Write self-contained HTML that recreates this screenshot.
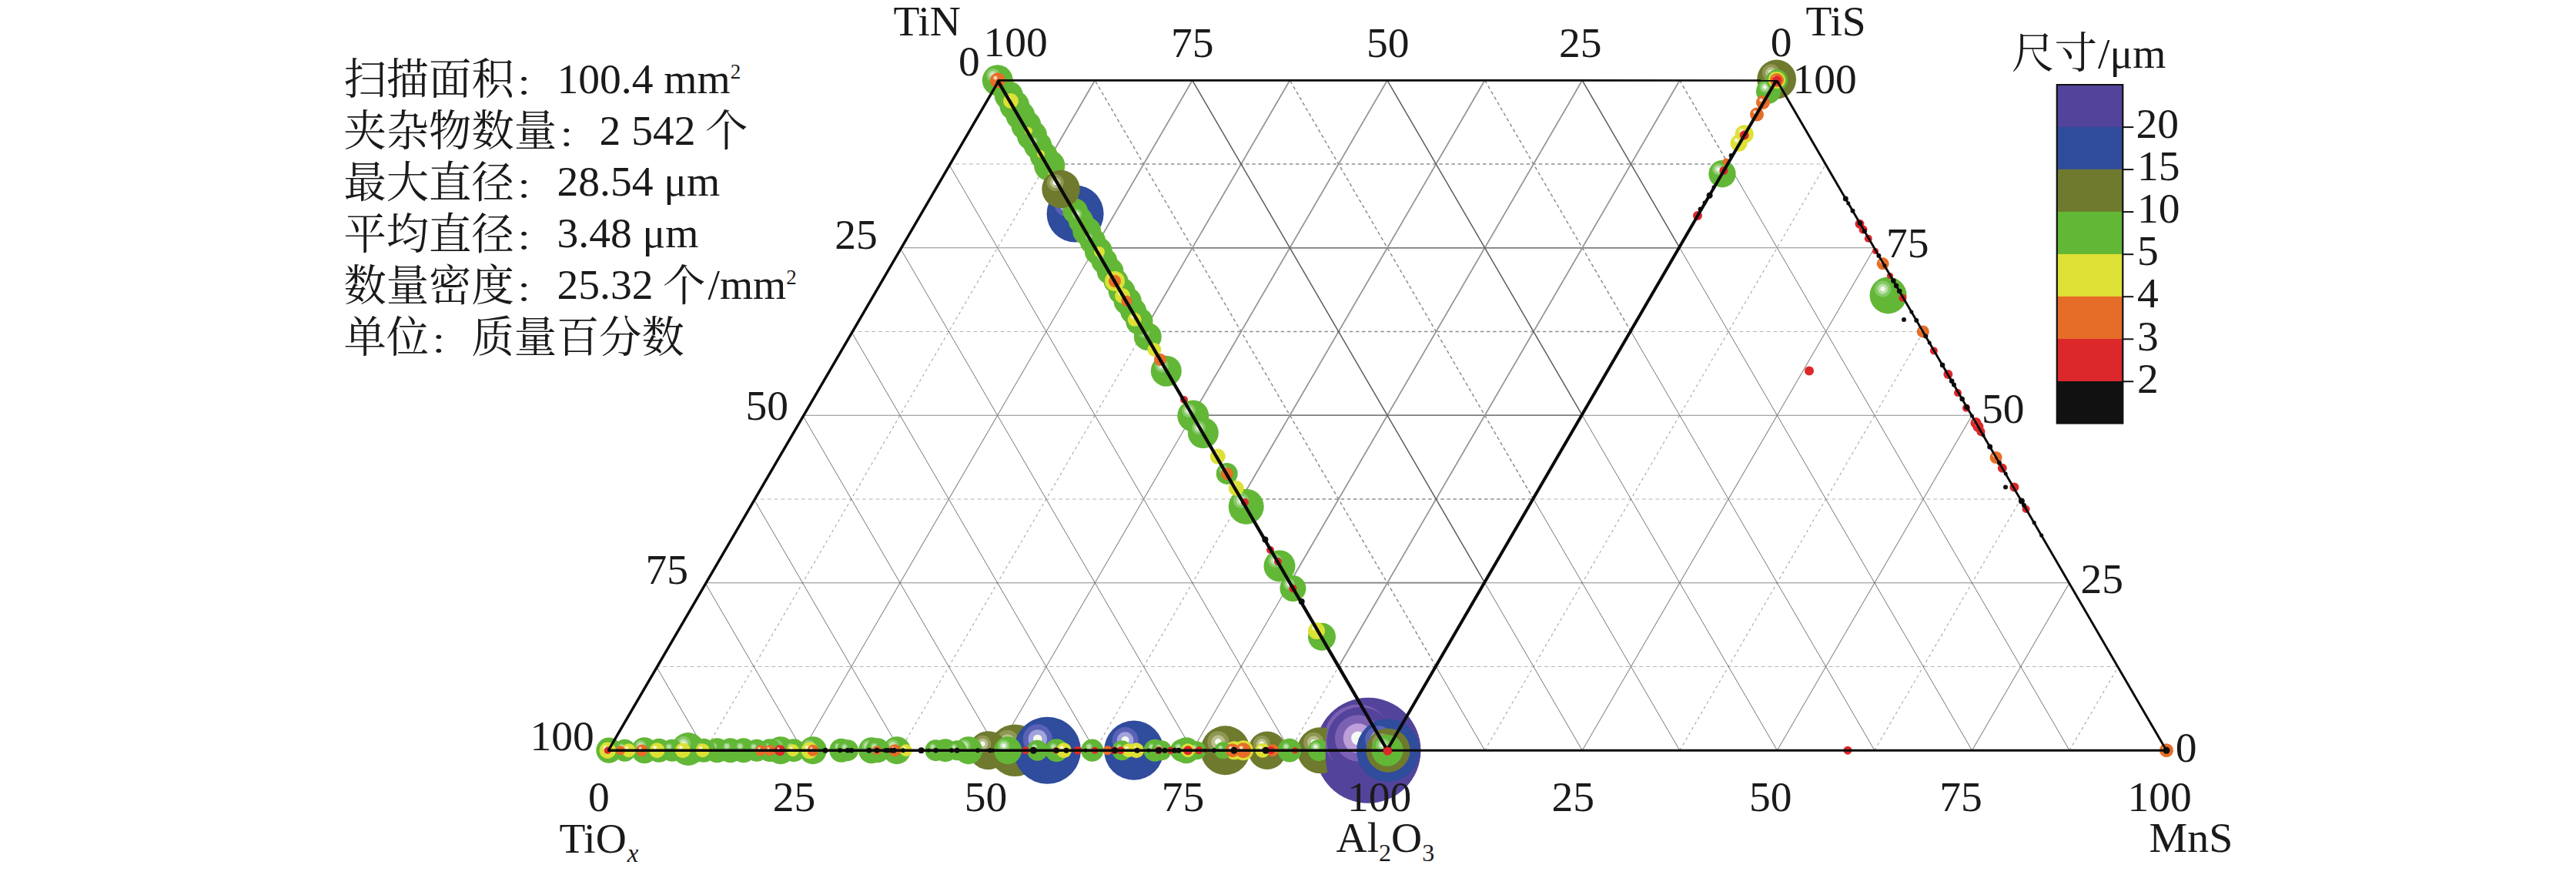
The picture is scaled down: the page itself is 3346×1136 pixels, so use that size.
<!DOCTYPE html>
<html lang="zh-CN">
<head>
<meta charset="utf-8">
<title>夹杂物成分分布</title>
<style>
html,body{margin:0;padding:0;background:#fff;}
body{width:3346px;height:1136px;overflow:hidden;}
svg{display:block;}
text{font-family:"Liberation Serif","Noto Serif CJK SC",serif;fill:#1a1a1a;}
text.cj{font-family:"Liberation Serif","Noto Serif CJK SC",serif;font-weight:400;}
</style>
</head>
<body>
<svg width="3346" height="1136" viewBox="0 0 3346 1136">
<defs>
<clipPath id="clipOl"><path d="M1670 930 H1728 Q1715 974 1728 1018 H1670 Z"/></clipPath>
</defs>
<rect width="3346" height="1136" fill="#ffffff"/>
<g id="grid" fill="none">
<line x1="852.6" y1="865.5" x2="1738.7" y2="865.5" stroke="#b5b5b5" stroke-width="1.2" stroke-dasharray="5 3.8"/>
<line x1="1738.7" y1="865.5" x2="1865.3" y2="865.5" stroke="#8e8e8e" stroke-width="1.5" stroke-dasharray="4.5 3.6"/>
<line x1="1865.3" y1="865.5" x2="2751.4" y2="865.5" stroke="#b5b5b5" stroke-width="1.2" stroke-dasharray="5 3.8"/>
<line x1="915.9" y1="756.7" x2="1675.4" y2="756.7" stroke="#8a8a8a" stroke-width="1.1"/>
<line x1="1675.4" y1="756.7" x2="1928.6" y2="756.7" stroke="#7e7e7e" stroke-width="1.7"/>
<line x1="1928.6" y1="756.7" x2="2688.1" y2="756.7" stroke="#8a8a8a" stroke-width="1.1"/>
<line x1="979.2" y1="648" x2="1612.1" y2="648" stroke="#b5b5b5" stroke-width="1.2" stroke-dasharray="5 3.8"/>
<line x1="1612.1" y1="648" x2="1991.9" y2="648" stroke="#8e8e8e" stroke-width="1.5" stroke-dasharray="4.5 3.6"/>
<line x1="1991.9" y1="648" x2="2624.8" y2="648" stroke="#b5b5b5" stroke-width="1.2" stroke-dasharray="5 3.8"/>
<line x1="1042.5" y1="539.2" x2="1548.8" y2="539.2" stroke="#8a8a8a" stroke-width="1.1"/>
<line x1="1548.8" y1="539.2" x2="2055.2" y2="539.2" stroke="#7e7e7e" stroke-width="1.7"/>
<line x1="2055.2" y1="539.2" x2="2561.5" y2="539.2" stroke="#8a8a8a" stroke-width="1.1"/>
<line x1="1105.8" y1="430.5" x2="1485.5" y2="430.5" stroke="#b5b5b5" stroke-width="1.2" stroke-dasharray="5 3.8"/>
<line x1="1485.5" y1="430.5" x2="2118.5" y2="430.5" stroke="#8e8e8e" stroke-width="1.5" stroke-dasharray="4.5 3.6"/>
<line x1="2118.5" y1="430.5" x2="2498.2" y2="430.5" stroke="#b5b5b5" stroke-width="1.2" stroke-dasharray="5 3.8"/>
<line x1="1169.1" y1="321.8" x2="1422.2" y2="321.8" stroke="#8a8a8a" stroke-width="1.1"/>
<line x1="1422.2" y1="321.8" x2="2181.8" y2="321.8" stroke="#7e7e7e" stroke-width="1.7"/>
<line x1="2181.8" y1="321.8" x2="2434.9" y2="321.8" stroke="#8a8a8a" stroke-width="1.1"/>
<line x1="1232.4" y1="213" x2="1358.9" y2="213" stroke="#b5b5b5" stroke-width="1.2" stroke-dasharray="5 3.8"/>
<line x1="1358.9" y1="213" x2="2245.1" y2="213" stroke="#8e8e8e" stroke-width="1.5" stroke-dasharray="4.5 3.6"/>
<line x1="2245.1" y1="213" x2="2371.6" y2="213" stroke="#b5b5b5" stroke-width="1.2" stroke-dasharray="5 3.8"/>
<line x1="915.9" y1="974.2" x2="1358.9" y2="213" stroke="#a6a6a6" stroke-width="1.1" stroke-dasharray="3.6 4.2"/>
<line x1="1358.9" y1="213" x2="1422.2" y2="104.3" stroke="#959595" stroke-width="1.75"/>
<line x1="1042.5" y1="974.2" x2="1422.2" y2="321.8" stroke="#8a8a8a" stroke-width="1.1"/>
<line x1="1422.2" y1="321.8" x2="1548.8" y2="104.3" stroke="#959595" stroke-width="1.75"/>
<line x1="1169.1" y1="974.2" x2="1485.5" y2="430.5" stroke="#a6a6a6" stroke-width="1.1" stroke-dasharray="3.6 4.2"/>
<line x1="1485.5" y1="430.5" x2="1675.4" y2="104.3" stroke="#959595" stroke-width="1.75"/>
<line x1="1295.7" y1="974.2" x2="1548.8" y2="539.2" stroke="#8a8a8a" stroke-width="1.1"/>
<line x1="1548.8" y1="539.2" x2="1802" y2="104.3" stroke="#959595" stroke-width="1.75"/>
<line x1="1422.2" y1="974.2" x2="1612.1" y2="648" stroke="#a6a6a6" stroke-width="1.1" stroke-dasharray="3.6 4.2"/>
<line x1="1612.1" y1="648" x2="1928.6" y2="104.3" stroke="#959595" stroke-width="1.75"/>
<line x1="1548.8" y1="974.2" x2="1675.4" y2="756.7" stroke="#8a8a8a" stroke-width="1.1"/>
<line x1="1675.4" y1="756.7" x2="2055.2" y2="104.3" stroke="#959595" stroke-width="1.75"/>
<line x1="1675.4" y1="974.2" x2="1738.7" y2="865.5" stroke="#a6a6a6" stroke-width="1.1" stroke-dasharray="3.6 4.2"/>
<line x1="1738.7" y1="865.5" x2="2181.8" y2="104.3" stroke="#959595" stroke-width="1.75"/>
<line x1="1928.6" y1="974.2" x2="2371.6" y2="213" stroke="#a6a6a6" stroke-width="1.1" stroke-dasharray="3.6 4.2"/>
<line x1="2055.2" y1="974.2" x2="2434.9" y2="321.8" stroke="#8a8a8a" stroke-width="1.1"/>
<line x1="2181.8" y1="974.2" x2="2498.2" y2="430.5" stroke="#a6a6a6" stroke-width="1.1" stroke-dasharray="3.6 4.2"/>
<line x1="2308.4" y1="974.2" x2="2561.5" y2="539.2" stroke="#8a8a8a" stroke-width="1.1"/>
<line x1="2434.9" y1="974.2" x2="2624.8" y2="648" stroke="#a6a6a6" stroke-width="1.1" stroke-dasharray="3.6 4.2"/>
<line x1="2561.5" y1="974.2" x2="2688.1" y2="756.7" stroke="#8a8a8a" stroke-width="1.1"/>
<line x1="2688.1" y1="974.2" x2="2751.4" y2="865.5" stroke="#a6a6a6" stroke-width="1.1" stroke-dasharray="3.6 4.2"/>
<line x1="915.9" y1="974.2" x2="852.6" y2="865.5" stroke="#707070" stroke-width="0.95"/>
<line x1="1042.5" y1="974.2" x2="915.9" y2="756.7" stroke="#707070" stroke-width="0.95"/>
<line x1="1169.1" y1="974.2" x2="979.2" y2="648" stroke="#707070" stroke-width="0.95"/>
<line x1="1295.7" y1="974.2" x2="1042.5" y2="539.2" stroke="#707070" stroke-width="0.95"/>
<line x1="1422.2" y1="974.2" x2="1105.8" y2="430.5" stroke="#707070" stroke-width="0.95"/>
<line x1="1548.8" y1="974.2" x2="1169.1" y2="321.8" stroke="#707070" stroke-width="0.95"/>
<line x1="1675.4" y1="974.2" x2="1232.4" y2="213" stroke="#707070" stroke-width="0.95"/>
<line x1="1928.6" y1="974.2" x2="1865.3" y2="865.5" stroke="#707070" stroke-width="0.95"/>
<line x1="1865.3" y1="865.5" x2="1422.2" y2="104.3" stroke="#8e8e8e" stroke-width="1.5" stroke-dasharray="4.5 3.6"/>
<line x1="2055.2" y1="974.2" x2="1928.6" y2="756.7" stroke="#707070" stroke-width="0.95"/>
<line x1="1928.6" y1="756.7" x2="1548.8" y2="104.3" stroke="#5c5c5c" stroke-width="1.5"/>
<line x1="2181.8" y1="974.2" x2="1991.9" y2="648" stroke="#707070" stroke-width="0.95"/>
<line x1="1991.9" y1="648" x2="1675.4" y2="104.3" stroke="#8e8e8e" stroke-width="1.5" stroke-dasharray="4.5 3.6"/>
<line x1="2308.4" y1="974.2" x2="2055.2" y2="539.2" stroke="#707070" stroke-width="0.95"/>
<line x1="2055.2" y1="539.2" x2="1802" y2="104.3" stroke="#5c5c5c" stroke-width="1.5"/>
<line x1="2434.9" y1="974.2" x2="2118.5" y2="430.5" stroke="#707070" stroke-width="0.95"/>
<line x1="2118.5" y1="430.5" x2="1928.6" y2="104.3" stroke="#8e8e8e" stroke-width="1.5" stroke-dasharray="4.5 3.6"/>
<line x1="2561.5" y1="974.2" x2="2181.8" y2="321.8" stroke="#707070" stroke-width="0.95"/>
<line x1="2181.8" y1="321.8" x2="2055.2" y2="104.3" stroke="#5c5c5c" stroke-width="1.5"/>
<line x1="2688.1" y1="974.2" x2="2245.1" y2="213" stroke="#707070" stroke-width="0.95"/>
<line x1="2245.1" y1="213" x2="2181.8" y2="104.3" stroke="#8e8e8e" stroke-width="1.5" stroke-dasharray="4.5 3.6"/>
</g>
<g id="bubbles">
<circle cx="1318.4" cy="974.2" r="33.8" fill="#6f7a2e"/><circle cx="1308.6" cy="962.7" r="14.9" fill="#8f9853"/><circle cx="1308.6" cy="962.7" r="9.5" fill="#babf8d"/><circle cx="1308.6" cy="962.7" r="4.4" fill="#f6f9f2"/>
<circle cx="1777" cy="974.2" r="68.5" fill="#54439a"/><circle cx="1764" cy="958.4" r="43.8" fill="#7c60b2"/><circle cx="1767.1" cy="961.9" r="43.8" fill="#54439a"/><circle cx="1764" cy="958.4" r="30.1" fill="#7c60b2"/><circle cx="1764" cy="958.4" r="19.2" fill="#bd9fd9"/><circle cx="1764" cy="958.4" r="8.9" fill="#f6f9f2"/>
<g clip-path="url(#clipOl)"><circle cx="1715" cy="974.2" r="30" fill="#6f7a2e"/><circle cx="1706.3" cy="964" r="13.2" fill="#8f9853"/><circle cx="1706.3" cy="964" r="8.4" fill="#babf8d"/><circle cx="1706.3" cy="964" r="3.9" fill="#f6f9f2"/><circle cx="1713" cy="974.2" r="14" fill="#62b736"/><circle cx="1708.9" cy="969.4" r="6.2" fill="#86c968"/><circle cx="1708.9" cy="969.4" r="3.9" fill="#b9e0a6"/><circle cx="1708.9" cy="969.4" r="1.8" fill="#f6f9f2"/></g>
<circle cx="1360.4" cy="974.2" r="43.5" fill="#2f4c9d"/><circle cx="1347.8" cy="959.4" r="19.1" fill="#5a62b6"/><circle cx="1347.8" cy="959.4" r="12.2" fill="#a3a3dc"/><circle cx="1347.8" cy="959.4" r="5.7" fill="#f6f9f2"/>
<circle cx="1803" cy="974.2" r="41" fill="#2f4c9d"/><circle cx="1791.1" cy="960.3" r="18" fill="#5a62b6"/><circle cx="1791.1" cy="960.3" r="11.5" fill="#a3a3dc"/><circle cx="1791.1" cy="960.3" r="5.3" fill="#f6f9f2"/>
<circle cx="1472.8" cy="974.2" r="38.6" fill="#2f4c9d"/><circle cx="1461.6" cy="961.1" r="17" fill="#5a62b6"/><circle cx="1461.6" cy="961.1" r="10.8" fill="#a3a3dc"/><circle cx="1461.6" cy="961.1" r="5" fill="#f6f9f2"/>
<circle cx="1396.6" cy="277.5" r="37" fill="#2f4c9d"/><circle cx="1385.9" cy="264.9" r="16.3" fill="#5a62b6"/><circle cx="1385.9" cy="264.9" r="10.4" fill="#a3a3dc"/><circle cx="1385.9" cy="264.9" r="4.8" fill="#f6f9f2"/>
<circle cx="1591.6" cy="974.2" r="32" fill="#6f7a2e"/><circle cx="1582.3" cy="963.3" r="14.1" fill="#8f9853"/><circle cx="1582.3" cy="963.3" r="9" fill="#babf8d"/><circle cx="1582.3" cy="963.3" r="4.2" fill="#f6f9f2"/>
<circle cx="1803" cy="974.2" r="28.5" fill="#6f7a2e"/><circle cx="1794.7" cy="964.5" r="12.5" fill="#8f9853"/><circle cx="1794.7" cy="964.5" r="8" fill="#babf8d"/><circle cx="1794.7" cy="964.5" r="3.7" fill="#f6f9f2"/>
<circle cx="2307.7" cy="103" r="25.4" fill="#6f7a2e"/><circle cx="2300.3" cy="94.4" r="11.2" fill="#8f9853"/><circle cx="2300.3" cy="94.4" r="7.1" fill="#babf8d"/><circle cx="2300.3" cy="94.4" r="3.3" fill="#f6f9f2"/>
<circle cx="1283.6" cy="974.2" r="25" fill="#6f7a2e"/><circle cx="1276.3" cy="965.7" r="11" fill="#8f9853"/><circle cx="1276.3" cy="965.7" r="7" fill="#babf8d"/><circle cx="1276.3" cy="965.7" r="3.2" fill="#f6f9f2"/>
<circle cx="1646" cy="974.2" r="24.7" fill="#6f7a2e"/><circle cx="1638.8" cy="965.8" r="10.9" fill="#8f9853"/><circle cx="1638.8" cy="965.8" r="6.9" fill="#babf8d"/><circle cx="1638.8" cy="965.8" r="3.2" fill="#f6f9f2"/>
<circle cx="2452.6" cy="383.4" r="24" fill="#62b736"/><circle cx="2445.6" cy="375.2" r="10.6" fill="#86c968"/><circle cx="2445.6" cy="375.2" r="6.7" fill="#b9e0a6"/><circle cx="2445.6" cy="375.2" r="3.1" fill="#f6f9f2"/>
<circle cx="1618.7" cy="657.7" r="23" fill="#62b736"/><circle cx="1612" cy="649.9" r="10.1" fill="#86c968"/><circle cx="1612" cy="649.9" r="6.4" fill="#b9e0a6"/><circle cx="1612" cy="649.9" r="3" fill="#f6f9f2"/>
<circle cx="893.8" cy="972.5" r="21.5" fill="#62b736"/><circle cx="887.6" cy="965.2" r="9.5" fill="#86c968"/><circle cx="887.6" cy="965.2" r="6" fill="#b9e0a6"/><circle cx="887.6" cy="965.2" r="2.8" fill="#f6f9f2"/>
<circle cx="1802" cy="974.2" r="20.5" fill="#62b736"/><circle cx="1796.1" cy="967.2" r="9" fill="#86c968"/><circle cx="1796.1" cy="967.2" r="5.7" fill="#b9e0a6"/><circle cx="1796.1" cy="967.2" r="2.7" fill="#f6f9f2"/>
<circle cx="1549.8" cy="540" r="20.5" fill="#62b736"/><circle cx="1543.9" cy="533" r="9" fill="#86c968"/><circle cx="1543.9" cy="533" r="5.7" fill="#b9e0a6"/><circle cx="1543.9" cy="533" r="2.7" fill="#f6f9f2"/>
<circle cx="1662" cy="734.8" r="20.5" fill="#62b736"/><circle cx="1656.1" cy="727.8" r="9" fill="#86c968"/><circle cx="1656.1" cy="727.8" r="5.7" fill="#b9e0a6"/><circle cx="1656.1" cy="727.8" r="2.7" fill="#f6f9f2"/>
<circle cx="1363.2" cy="215" r="20.1" fill="#62b736"/><circle cx="1357.4" cy="208.2" r="5.3" fill="#86c968"/><circle cx="1357.4" cy="208.2" r="3.4" fill="#b9e0a6"/>
<circle cx="1295.8" cy="104.3" r="20" fill="#62b736"/><circle cx="1290" cy="97.5" r="8.8" fill="#86c968"/><circle cx="1290" cy="97.5" r="5.6" fill="#b9e0a6"/><circle cx="1290" cy="97.5" r="2.6" fill="#f6f9f2"/>
<circle cx="1514.8" cy="481.7" r="20" fill="#62b736"/><circle cx="1509" cy="474.9" r="8.8" fill="#86c968"/><circle cx="1509" cy="474.9" r="5.6" fill="#b9e0a6"/><circle cx="1509" cy="474.9" r="2.6" fill="#f6f9f2"/>
<circle cx="1562.8" cy="562" r="20" fill="#62b736"/><circle cx="1557" cy="555.2" r="8.8" fill="#86c968"/><circle cx="1557" cy="555.2" r="5.6" fill="#b9e0a6"/><circle cx="1557" cy="555.2" r="2.6" fill="#f6f9f2"/>
<circle cx="1340.5" cy="176" r="19.6" fill="#62b736"/>
<circle cx="1333" cy="163" r="19.5" fill="#62b736"/><circle cx="1327.3" cy="156.4" r="5.2" fill="#86c968"/><circle cx="1327.3" cy="156.4" r="3.3" fill="#b9e0a6"/>
<circle cx="1317.8" cy="137" r="19.4" fill="#62b736"/><circle cx="1312.2" cy="130.4" r="5.1" fill="#86c968"/><circle cx="1312.2" cy="130.4" r="3.3" fill="#b9e0a6"/>
<circle cx="1325.4" cy="150" r="18.9" fill="#62b736"/>
<circle cx="1310.3" cy="124" r="18.6" fill="#62b736"/>
<circle cx="1411.7" cy="300" r="18.5" fill="#62b736"/>
<circle cx="1348.1" cy="189" r="18.2" fill="#62b736"/><circle cx="1342.8" cy="182.8" r="4.8" fill="#86c968"/><circle cx="1342.8" cy="182.8" r="3.1" fill="#b9e0a6"/>
<circle cx="1464.7" cy="391" r="18.1" fill="#62b736"/><circle cx="1459.4" cy="384.8" r="4.8" fill="#86c968"/><circle cx="1459.4" cy="384.8" r="3" fill="#b9e0a6"/>
<circle cx="1355.7" cy="202" r="18" fill="#62b736"/>
<circle cx="1426.8" cy="326" r="18" fill="#62b736"/>
<circle cx="1013.9" cy="974.2" r="18" fill="#62b736"/><circle cx="1008.7" cy="968.1" r="7.9" fill="#86c968"/><circle cx="1008.7" cy="968.1" r="5" fill="#b9e0a6"/><circle cx="1008.7" cy="968.1" r="2.3" fill="#f6f9f2"/>
<circle cx="1055.9" cy="974.2" r="18" fill="#62b736"/><circle cx="1050.7" cy="968.1" r="7.9" fill="#86c968"/><circle cx="1050.7" cy="968.1" r="5" fill="#b9e0a6"/><circle cx="1050.7" cy="968.1" r="2.3" fill="#f6f9f2"/>
<circle cx="1164.9" cy="974.2" r="18" fill="#62b736"/><circle cx="1159.7" cy="968.1" r="7.9" fill="#86c968"/><circle cx="1159.7" cy="968.1" r="5" fill="#b9e0a6"/><circle cx="1159.7" cy="968.1" r="2.3" fill="#f6f9f2"/>
<circle cx="1258" cy="974.2" r="18" fill="#62b736"/><circle cx="1252.8" cy="968.1" r="7.9" fill="#86c968"/><circle cx="1252.8" cy="968.1" r="5" fill="#b9e0a6"/><circle cx="1252.8" cy="968.1" r="2.3" fill="#f6f9f2"/>
<circle cx="1309" cy="974.2" r="18" fill="#62b736"/><circle cx="1303.8" cy="968.1" r="7.9" fill="#86c968"/><circle cx="1303.8" cy="968.1" r="5" fill="#b9e0a6"/><circle cx="1303.8" cy="968.1" r="2.3" fill="#f6f9f2"/>
<circle cx="1490.8" cy="437" r="18" fill="#62b736"/><circle cx="1485.6" cy="430.9" r="7.9" fill="#86c968"/><circle cx="1485.6" cy="430.9" r="5" fill="#b9e0a6"/><circle cx="1485.6" cy="430.9" r="2.3" fill="#f6f9f2"/>
<circle cx="1717" cy="826.7" r="18" fill="#62b736"/><circle cx="1711.8" cy="820.6" r="7.9" fill="#86c968"/><circle cx="1711.8" cy="820.6" r="5" fill="#b9e0a6"/><circle cx="1711.8" cy="820.6" r="2.3" fill="#f6f9f2"/>
<circle cx="1479.8" cy="417" r="17.7" fill="#62b736"/><circle cx="1474.7" cy="411" r="4.7" fill="#86c968"/><circle cx="1474.7" cy="411" r="3" fill="#b9e0a6"/>
<circle cx="2237" cy="225.7" r="17.7" fill="#62b736"/><circle cx="2231.9" cy="219.7" r="7.8" fill="#86c968"/><circle cx="2231.9" cy="219.7" r="5" fill="#b9e0a6"/><circle cx="2231.9" cy="219.7" r="2.3" fill="#f6f9f2"/>
<circle cx="1442" cy="352" r="17.4" fill="#62b736"/>
<circle cx="1457.1" cy="378" r="17.4" fill="#62b736"/>
<circle cx="1472.2" cy="404" r="17.1" fill="#62b736"/>
<circle cx="837" cy="974.2" r="17" fill="#62b736"/><circle cx="832.1" cy="968.4" r="7.5" fill="#86c968"/><circle cx="832.1" cy="968.4" r="4.8" fill="#b9e0a6"/><circle cx="832.1" cy="968.4" r="2.2" fill="#f6f9f2"/>
<circle cx="1132" cy="974.2" r="17" fill="#62b736"/><circle cx="1127.1" cy="968.4" r="7.5" fill="#86c968"/><circle cx="1127.1" cy="968.4" r="4.8" fill="#b9e0a6"/><circle cx="1127.1" cy="968.4" r="2.2" fill="#f6f9f2"/>
<circle cx="1541" cy="974.2" r="17" fill="#62b736"/><circle cx="1536.1" cy="968.4" r="7.5" fill="#86c968"/><circle cx="1536.1" cy="968.4" r="4.8" fill="#b9e0a6"/><circle cx="1536.1" cy="968.4" r="2.2" fill="#f6f9f2"/>
<circle cx="1679.4" cy="764" r="17" fill="#62b736"/><circle cx="1674.5" cy="758.2" r="7.5" fill="#86c968"/><circle cx="1674.5" cy="758.2" r="4.8" fill="#b9e0a6"/><circle cx="1674.5" cy="758.2" r="2.2" fill="#f6f9f2"/>
<circle cx="1434.4" cy="339" r="16.9" fill="#62b736"/><circle cx="1429.5" cy="333.2" r="4.5" fill="#86c968"/><circle cx="1429.5" cy="333.2" r="2.8" fill="#b9e0a6"/>
<circle cx="1419.3" cy="313" r="16.9" fill="#62b736"/><circle cx="1414.4" cy="307.3" r="4.5" fill="#86c968"/><circle cx="1414.4" cy="307.3" r="2.8" fill="#b9e0a6"/>
<circle cx="790.9" cy="974.2" r="16.6" fill="#62b736"/><circle cx="786.1" cy="968.6" r="4.7" fill="#86c968"/><circle cx="786.1" cy="968.6" r="3" fill="#b9e0a6"/>
<circle cx="1396.6" cy="274" r="16.3" fill="#62b736"/>
<circle cx="1404.1" cy="287" r="16.2" fill="#62b736"/><circle cx="1399.4" cy="281.5" r="4.3" fill="#86c968"/><circle cx="1399.4" cy="281.5" r="2.7" fill="#b9e0a6"/>
<circle cx="931.5" cy="974.2" r="16" fill="#62b736"/><circle cx="926.9" cy="968.8" r="4.6" fill="#86c968"/><circle cx="926.9" cy="968.8" r="2.9" fill="#b9e0a6"/>
<circle cx="948.7" cy="974.2" r="16" fill="#62b736"/><circle cx="944.1" cy="968.8" r="4.6" fill="#86c968"/><circle cx="944.1" cy="968.8" r="2.9" fill="#b9e0a6"/>
<circle cx="965.8" cy="974.2" r="16" fill="#62b736"/><circle cx="961.2" cy="968.8" r="4.6" fill="#86c968"/><circle cx="961.2" cy="968.8" r="2.9" fill="#b9e0a6"/>
<circle cx="1140" cy="974.2" r="16" fill="#62b736"/><circle cx="1135.4" cy="968.8" r="4.6" fill="#86c968"/><circle cx="1135.4" cy="968.8" r="2.9" fill="#b9e0a6"/>
<circle cx="2297" cy="118.6" r="16" fill="#62b736"/><circle cx="2292.4" cy="113.2" r="7" fill="#86c968"/><circle cx="2292.4" cy="113.2" r="4.5" fill="#b9e0a6"/><circle cx="2292.4" cy="113.2" r="2.1" fill="#f6f9f2"/>
<circle cx="1449.5" cy="365" r="16" fill="#62b736"/><circle cx="1444.9" cy="359.6" r="4.2" fill="#86c968"/><circle cx="1444.9" cy="359.6" r="2.7" fill="#b9e0a6"/>
<circle cx="856" cy="974.2" r="15.5" fill="#62b736"/><circle cx="851.5" cy="968.9" r="4.4" fill="#86c968"/><circle cx="851.5" cy="968.9" r="2.8" fill="#b9e0a6"/>
<circle cx="914" cy="974.2" r="15.5" fill="#62b736"/><circle cx="909.5" cy="968.9" r="4.4" fill="#86c968"/><circle cx="909.5" cy="968.9" r="2.8" fill="#b9e0a6"/>
<circle cx="1092.8" cy="974.2" r="15.5" fill="#62b736"/><circle cx="1088.3" cy="968.9" r="4.4" fill="#86c968"/><circle cx="1088.3" cy="968.9" r="2.8" fill="#b9e0a6"/>
<circle cx="1675" cy="974.2" r="15.4" fill="#62b736"/><circle cx="1670.5" cy="969" r="4.4" fill="#86c968"/><circle cx="1670.5" cy="969" r="2.8" fill="#b9e0a6"/>
<circle cx="1000" cy="974.2" r="15" fill="#62b736"/><circle cx="995.6" cy="969.1" r="4.3" fill="#86c968"/><circle cx="995.6" cy="969.1" r="2.7" fill="#b9e0a6"/>
<circle cx="1031" cy="974.2" r="15" fill="#62b736"/><circle cx="1026.7" cy="969.1" r="4.3" fill="#86c968"/><circle cx="1026.7" cy="969.1" r="2.7" fill="#b9e0a6"/>
<circle cx="1228" cy="974.2" r="15" fill="#62b736"/><circle cx="1223.7" cy="969.1" r="4.3" fill="#86c968"/><circle cx="1223.7" cy="969.1" r="2.7" fill="#b9e0a6"/>
<circle cx="1372.4" cy="974.2" r="15" fill="#62b736"/><circle cx="1368.1" cy="969.1" r="4.3" fill="#86c968"/><circle cx="1368.1" cy="969.1" r="2.7" fill="#b9e0a6"/>
<circle cx="1403" cy="283" r="15" fill="#62b736"/><circle cx="1398.7" cy="277.9" r="6.6" fill="#86c968"/><circle cx="1398.7" cy="277.9" r="4.2" fill="#b9e0a6"/><circle cx="1398.7" cy="277.9" r="2" fill="#f6f9f2"/>
<circle cx="1418.7" cy="974.2" r="14.6" fill="#62b736"/><circle cx="1414.5" cy="969.2" r="4.2" fill="#86c968"/><circle cx="1414.5" cy="969.2" r="2.7" fill="#b9e0a6"/>
<circle cx="811.5" cy="974.2" r="14.5" fill="#62b736"/><circle cx="807.3" cy="969.3" r="4.1" fill="#86c968"/><circle cx="807.3" cy="969.3" r="2.6" fill="#b9e0a6"/>
<circle cx="873" cy="974.2" r="14.5" fill="#62b736"/><circle cx="868.8" cy="969.3" r="4.1" fill="#86c968"/><circle cx="868.8" cy="969.3" r="2.6" fill="#b9e0a6"/>
<circle cx="983" cy="974.2" r="14.5" fill="#62b736"/><circle cx="978.8" cy="969.3" r="4.1" fill="#86c968"/><circle cx="978.8" cy="969.3" r="2.6" fill="#b9e0a6"/>
<circle cx="1500" cy="974.2" r="14.5" fill="#62b736"/><circle cx="1495.8" cy="969.3" r="4.1" fill="#86c968"/><circle cx="1495.8" cy="969.3" r="2.6" fill="#b9e0a6"/>
<circle cx="1534.5" cy="974.2" r="14.5" fill="#62b736"/><circle cx="1530.3" cy="969.3" r="4.1" fill="#86c968"/><circle cx="1530.3" cy="969.3" r="2.6" fill="#b9e0a6"/>
<circle cx="1101" cy="974.2" r="14" fill="#62b736"/><circle cx="1096.9" cy="969.4" r="4" fill="#86c968"/><circle cx="1096.9" cy="969.4" r="2.5" fill="#b9e0a6"/>
<circle cx="1215.5" cy="974.2" r="14" fill="#62b736"/><circle cx="1211.4" cy="969.4" r="4" fill="#86c968"/><circle cx="1211.4" cy="969.4" r="2.5" fill="#b9e0a6"/>
<circle cx="1593.7" cy="614.9" r="14" fill="#62b736"/><circle cx="1589.6" cy="610.1" r="6.2" fill="#86c968"/><circle cx="1589.6" cy="610.1" r="3.9" fill="#b9e0a6"/><circle cx="1589.6" cy="610.1" r="1.8" fill="#f6f9f2"/>
<circle cx="2308" cy="104" r="14" fill="#62b736"/><circle cx="2303.9" cy="99.2" r="6.2" fill="#86c968"/><circle cx="2303.9" cy="99.2" r="3.9" fill="#b9e0a6"/><circle cx="2303.9" cy="99.2" r="1.8" fill="#f6f9f2"/>
<circle cx="1347.5" cy="974.2" r="13.5" fill="#62b736"/><circle cx="1343.6" cy="969.6" r="3.9" fill="#86c968"/><circle cx="1343.6" cy="969.6" r="2.5" fill="#b9e0a6"/>
<circle cx="1243" cy="974.2" r="13" fill="#62b736"/><circle cx="1239.2" cy="969.8" r="3.7" fill="#86c968"/><circle cx="1239.2" cy="969.8" r="2.4" fill="#b9e0a6"/>
<circle cx="1457.3" cy="974.2" r="13" fill="#62b736"/><circle cx="1453.5" cy="969.8" r="3.7" fill="#86c968"/><circle cx="1453.5" cy="969.8" r="2.4" fill="#b9e0a6"/>
<circle cx="1508.8" cy="974.2" r="13" fill="#62b736"/><circle cx="1505" cy="969.8" r="3.7" fill="#86c968"/><circle cx="1505" cy="969.8" r="2.4" fill="#b9e0a6"/>
<circle cx="1615" cy="974.2" r="13" fill="#dde135"/><circle cx="1611.2" cy="969.8" r="3.9" fill="#ecee8a"/><circle cx="1611.2" cy="969.8" r="1.9" fill="#fdfdf6"/>
<circle cx="1448" cy="365" r="13" fill="#dde135"/><circle cx="1444.2" cy="360.6" r="3.9" fill="#ecee8a"/><circle cx="1444.2" cy="360.6" r="1.9" fill="#fdfdf6"/>
<circle cx="1554.5" cy="974.2" r="12" fill="#62b736"/><circle cx="1551" cy="970.1" r="3.4" fill="#86c968"/><circle cx="1551" cy="970.1" r="2.2" fill="#b9e0a6"/>
<circle cx="1603" cy="974.2" r="12" fill="#dde135"/><circle cx="1599.5" cy="970.1" r="3.6" fill="#ecee8a"/><circle cx="1599.5" cy="970.1" r="1.8" fill="#fdfdf6"/>
<circle cx="2265.7" cy="174.3" r="12" fill="#dde135"/><circle cx="2262.2" cy="170.2" r="3.6" fill="#ecee8a"/><circle cx="2262.2" cy="170.2" r="1.8" fill="#fdfdf6"/>
<circle cx="1588.5" cy="974.2" r="11" fill="#62b736"/><circle cx="1585.3" cy="970.5" r="3.1" fill="#86c968"/><circle cx="1585.3" cy="970.5" r="2" fill="#b9e0a6"/>
<circle cx="1051.6" cy="974.2" r="11" fill="#dde135"/><circle cx="1048.4" cy="970.5" r="3.3" fill="#ecee8a"/><circle cx="1048.4" cy="970.5" r="1.6" fill="#fdfdf6"/>
<circle cx="1710" cy="819" r="11" fill="#dde135"/><circle cx="1706.8" cy="815.3" r="3.3" fill="#ecee8a"/><circle cx="1706.8" cy="815.3" r="1.6" fill="#fdfdf6"/>
<circle cx="2308" cy="104" r="11" fill="#dde135"/><circle cx="2304.8" cy="100.3" r="3.3" fill="#ecee8a"/><circle cx="2304.8" cy="100.3" r="1.6" fill="#fdfdf6"/>
<circle cx="2258.6" cy="185.7" r="11" fill="#dde135"/><circle cx="2255.4" cy="182" r="3.3" fill="#ecee8a"/><circle cx="2255.4" cy="182" r="1.6" fill="#fdfdf6"/>
<circle cx="789.3" cy="974.2" r="10.7" fill="#dde135"/><circle cx="786.2" cy="970.6" r="3.2" fill="#ecee8a"/><circle cx="786.2" cy="970.6" r="1.6" fill="#fdfdf6"/>
<circle cx="853.5" cy="974.2" r="10" fill="#dde135"/><circle cx="850.6" cy="970.8" r="3" fill="#ecee8a"/><circle cx="850.6" cy="970.8" r="1.5" fill="#fdfdf6"/>
<circle cx="887" cy="974.2" r="10" fill="#dde135"/><circle cx="884.1" cy="970.8" r="3" fill="#ecee8a"/><circle cx="884.1" cy="970.8" r="1.5" fill="#fdfdf6"/>
<circle cx="1381.9" cy="974.2" r="10" fill="#dde135"/><circle cx="1379" cy="970.8" r="3" fill="#ecee8a"/><circle cx="1379" cy="970.8" r="1.5" fill="#fdfdf6"/>
<circle cx="1476" cy="974.2" r="10" fill="#dde135"/><circle cx="1473.1" cy="970.8" r="3" fill="#ecee8a"/><circle cx="1473.1" cy="970.8" r="1.5" fill="#fdfdf6"/>
<circle cx="1615" cy="974.2" r="10" fill="#e66d28"/><circle cx="1612.1" cy="970.8" r="3" fill="#f3a16c"/><circle cx="1612.1" cy="970.8" r="1.5" fill="#fdfdf6"/>
<circle cx="1295.8" cy="104.3" r="10" fill="#e66d28"/><circle cx="1292.9" cy="100.9" r="3" fill="#f3a16c"/><circle cx="1292.9" cy="100.9" r="1.5" fill="#fdfdf6"/>
<circle cx="1313" cy="131" r="10" fill="#dde135"/><circle cx="1310.1" cy="127.6" r="3" fill="#ecee8a"/><circle cx="1310.1" cy="127.6" r="1.5" fill="#fdfdf6"/>
<circle cx="1458" cy="384" r="10" fill="#dde135"/><circle cx="1455.1" cy="380.6" r="3" fill="#ecee8a"/><circle cx="1455.1" cy="380.6" r="1.5" fill="#fdfdf6"/>
<circle cx="1581.7" cy="592.6" r="10" fill="#dde135"/><circle cx="1578.8" cy="589.2" r="3" fill="#ecee8a"/><circle cx="1578.8" cy="589.2" r="1.5" fill="#fdfdf6"/>
<circle cx="1605.7" cy="633.7" r="10" fill="#dde135"/><circle cx="1602.8" cy="630.3" r="3" fill="#ecee8a"/><circle cx="1602.8" cy="630.3" r="1.5" fill="#fdfdf6"/>
<circle cx="1640" cy="974.2" r="9.5" fill="#dde135"/><circle cx="1637.2" cy="971" r="2.9" fill="#ecee8a"/><circle cx="1637.2" cy="971" r="1.4" fill="#fdfdf6"/>
<circle cx="816.6" cy="974.2" r="9" fill="#dde135"/><circle cx="814" cy="971.1" r="2.7" fill="#ecee8a"/><circle cx="814" cy="971.1" r="1.3" fill="#fdfdf6"/>
<circle cx="912.7" cy="974.2" r="9" fill="#dde135"/><circle cx="910.1" cy="971.1" r="2.7" fill="#ecee8a"/><circle cx="910.1" cy="971.1" r="1.3" fill="#fdfdf6"/>
<circle cx="1466" cy="974.2" r="9" fill="#dde135"/><circle cx="1463.4" cy="971.1" r="2.7" fill="#ecee8a"/><circle cx="1463.4" cy="971.1" r="1.3" fill="#fdfdf6"/>
<circle cx="1543" cy="974.2" r="9" fill="#dde135"/><circle cx="1540.4" cy="971.1" r="2.7" fill="#ecee8a"/><circle cx="1540.4" cy="971.1" r="1.3" fill="#fdfdf6"/>
<circle cx="1600.8" cy="974.2" r="9" fill="#e66d28"/><circle cx="1598.2" cy="971.1" r="2.7" fill="#f3a16c"/><circle cx="1598.2" cy="971.1" r="1.3" fill="#fdfdf6"/>
<circle cx="2814" cy="974.2" r="9" fill="#e66d28"/><circle cx="2811.4" cy="971.1" r="2.7" fill="#f3a16c"/><circle cx="2811.4" cy="971.1" r="1.3" fill="#fdfdf6"/>
<circle cx="1473.7" cy="414.8" r="9" fill="#dde135"/><circle cx="1471.1" cy="411.7" r="2.7" fill="#ecee8a"/><circle cx="1471.1" cy="411.7" r="1.3" fill="#fdfdf6"/>
<circle cx="1499.4" cy="454" r="9" fill="#dde135"/><circle cx="1496.8" cy="450.9" r="2.7" fill="#ecee8a"/><circle cx="1496.8" cy="450.9" r="1.3" fill="#fdfdf6"/>
<circle cx="2308" cy="104" r="9" fill="#e66d28"/><circle cx="2305.4" cy="100.9" r="2.7" fill="#f3a16c"/><circle cx="2305.4" cy="100.9" r="1.3" fill="#fdfdf6"/>
<circle cx="2290" cy="133" r="9" fill="#e66d28"/><circle cx="2287.4" cy="129.9" r="2.7" fill="#f3a16c"/><circle cx="2287.4" cy="129.9" r="1.3" fill="#fdfdf6"/>
<circle cx="2282" cy="148.6" r="9" fill="#e66d28"/><circle cx="2279.4" cy="145.5" r="2.7" fill="#f3a16c"/><circle cx="2279.4" cy="145.5" r="1.3" fill="#fdfdf6"/>
<circle cx="1030" cy="974.2" r="8" fill="#dde135"/><circle cx="1027.7" cy="971.5" r="2.4" fill="#ecee8a"/><circle cx="1027.7" cy="971.5" r="1.2" fill="#fdfdf6"/>
<circle cx="1176.9" cy="974.2" r="8" fill="#dde135"/><circle cx="1174.6" cy="971.5" r="2.4" fill="#ecee8a"/><circle cx="1174.6" cy="971.5" r="1.2" fill="#fdfdf6"/>
<circle cx="1162" cy="974.2" r="8" fill="#e66d28"/><circle cx="1159.7" cy="971.5" r="2.4" fill="#f3a16c"/><circle cx="1159.7" cy="971.5" r="1.2" fill="#fdfdf6"/>
<circle cx="1653" cy="974.2" r="8" fill="#e66d28"/><circle cx="1650.7" cy="971.5" r="2.4" fill="#f3a16c"/><circle cx="1650.7" cy="971.5" r="1.2" fill="#fdfdf6"/>
<circle cx="1448" cy="365" r="8" fill="#e66d28"/><circle cx="1445.7" cy="362.3" r="2.4" fill="#f3a16c"/><circle cx="1445.7" cy="362.3" r="1.2" fill="#fdfdf6"/>
<circle cx="1507" cy="467" r="8" fill="#e66d28"/><circle cx="1504.7" cy="464.3" r="2.4" fill="#f3a16c"/><circle cx="1504.7" cy="464.3" r="1.2" fill="#fdfdf6"/>
<circle cx="1593.7" cy="614.9" r="8" fill="#e66d28"/><circle cx="1591.4" cy="612.2" r="2.4" fill="#f3a16c"/><circle cx="1591.4" cy="612.2" r="1.2" fill="#fdfdf6"/>
<circle cx="2445.7" cy="342.3" r="8" fill="#e66d28"/><circle cx="2443.4" cy="339.6" r="2.4" fill="#f3a16c"/><circle cx="2443.4" cy="339.6" r="1.2" fill="#fdfdf6"/>
<circle cx="2497.8" cy="430.4" r="8" fill="#e66d28"/><circle cx="2495.5" cy="427.7" r="2.4" fill="#f3a16c"/><circle cx="2495.5" cy="427.7" r="1.2" fill="#fdfdf6"/>
<circle cx="2592.6" cy="594" r="8" fill="#e66d28"/><circle cx="2590.3" cy="591.3" r="2.4" fill="#f3a16c"/><circle cx="2590.3" cy="591.3" r="1.2" fill="#fdfdf6"/>
<circle cx="833.8" cy="974.2" r="7.7" fill="#e66d28"/><circle cx="831.6" cy="971.6" r="2.3" fill="#f3a16c"/><circle cx="831.6" cy="971.6" r="1.2" fill="#fdfdf6"/>
<circle cx="1055.9" cy="974.2" r="7.5" fill="#e66d28"/><circle cx="1053.7" cy="971.7" r="2.2" fill="#f3a16c"/><circle cx="1053.7" cy="971.7" r="1.1" fill="#fdfdf6"/>
<circle cx="988" cy="974.2" r="7" fill="#e66d28"/><circle cx="986" cy="971.8" r="2.1" fill="#f3a16c"/><circle cx="986" cy="971.8" r="1.1" fill="#fdfdf6"/>
<circle cx="1000" cy="974.2" r="7" fill="#e66d28"/><circle cx="998" cy="971.8" r="2.1" fill="#f3a16c"/><circle cx="998" cy="971.8" r="1.1" fill="#fdfdf6"/>
<circle cx="1013" cy="974.2" r="7" fill="#dc282b"/><circle cx="1011" cy="971.8" r="2.1" fill="#ec6a62"/><circle cx="1011" cy="971.8" r="1.1" fill="#fdfdf6"/>
<circle cx="1428" cy="327" r="7" fill="#dde135"/><circle cx="1426" cy="324.6" r="2.1" fill="#ecee8a"/><circle cx="1426" cy="324.6" r="1.1" fill="#fdfdf6"/>
<circle cx="1463.4" cy="390.8" r="7" fill="#e66d28"/><circle cx="1461.4" cy="388.4" r="2.1" fill="#f3a16c"/><circle cx="1461.4" cy="388.4" r="1.1" fill="#fdfdf6"/>
<circle cx="2566.5" cy="549" r="7" fill="#dc282b"/><circle cx="2564.5" cy="546.6" r="2.1" fill="#ec6a62"/><circle cx="2564.5" cy="546.6" r="1.1" fill="#fdfdf6"/>
<circle cx="2569.5" cy="554" r="7" fill="#dc282b"/><circle cx="2567.5" cy="551.6" r="2.1" fill="#ec6a62"/><circle cx="2567.5" cy="551.6" r="1.1" fill="#fdfdf6"/>
<circle cx="806" cy="974.2" r="6" fill="#e66d28"/>
<circle cx="1139" cy="974.2" r="6" fill="#e66d28"/>
<circle cx="1438.5" cy="974.2" r="6" fill="#e66d28"/>
<circle cx="1543" cy="974.2" r="6" fill="#dc282b"/>
<circle cx="1802.3" cy="974.2" r="6" fill="#dc282b"/>
<circle cx="1388" cy="262" r="6" fill="#dde135"/>
<circle cx="2308" cy="104.5" r="6" fill="#dc282b"/>
<circle cx="2265.7" cy="175.5" r="6" fill="#dc282b"/>
<circle cx="2205" cy="280" r="6" fill="#dc282b"/>
<circle cx="2415.5" cy="290.8" r="6" fill="#dc282b"/>
<circle cx="2530.4" cy="486" r="6" fill="#dc282b"/>
<circle cx="2600.8" cy="607.8" r="6" fill="#dc282b"/>
<circle cx="2616.4" cy="632.5" r="6" fill="#dc282b"/>
<circle cx="2350" cy="481.5" r="6" fill="#dc282b"/>
<circle cx="1399.9" cy="974.2" r="5.5" fill="#dc282b"/>
<circle cx="2400" cy="974.2" r="5.5" fill="#dc282b"/>
<circle cx="2239" cy="221.5" r="5.5" fill="#dc282b"/>
<circle cx="2420" cy="298" r="5.5" fill="#dc282b"/>
<circle cx="2573" cy="560.5" r="5.5" fill="#dc282b"/>
<circle cx="1332" cy="974.2" r="5" fill="#dc282b"/>
<circle cx="1447" cy="974.2" r="5" fill="#dc282b"/>
<circle cx="1455.6" cy="974.2" r="5" fill="#dc282b"/>
<circle cx="1505" cy="974.2" r="5" fill="#dc282b"/>
<circle cx="1557.6" cy="974.2" r="5" fill="#dc282b"/>
<circle cx="1651" cy="974.2" r="5" fill="#dc282b"/>
<circle cx="1336" cy="170" r="5" fill="#dde135"/>
<circle cx="1352" cy="200" r="5" fill="#dde135"/>
<circle cx="1366" cy="228" r="5" fill="#dde135"/>
<circle cx="1538" cy="519" r="5" fill="#dc282b"/>
<circle cx="1617" cy="652" r="5" fill="#dc282b"/>
<circle cx="1650" cy="714" r="5" fill="#dc282b"/>
<circle cx="1660" cy="729" r="5" fill="#dc282b"/>
<circle cx="1679.4" cy="764" r="5" fill="#dc282b"/>
<circle cx="2426.8" cy="309.7" r="5" fill="#dc282b"/>
<circle cx="2471.4" cy="386.8" r="5" fill="#dc282b"/>
<circle cx="2511.9" cy="455.4" r="5" fill="#dc282b"/>
<circle cx="2543" cy="510" r="5" fill="#dc282b"/>
<circle cx="2554" cy="529.7" r="5" fill="#dc282b"/>
<circle cx="2631.6" cy="661" r="5" fill="#dc282b"/>
<circle cx="789.3" cy="974.2" r="4.6" fill="#dc282b"/>
<circle cx="1422" cy="974.2" r="4.5" fill="#dc282b"/>
<circle cx="1520.6" cy="974.2" r="4.5" fill="#dc282b"/>
<circle cx="1342.4" cy="974.2" r="4.5" fill="#111111"/>
<circle cx="1602.9" cy="974.2" r="4.5" fill="#111111"/>
<circle cx="1644" cy="974.2" r="4.5" fill="#111111"/>
<circle cx="2814" cy="974.2" r="4.5" fill="#111111"/>
<circle cx="2242" cy="210" r="4.5" fill="#e66d28"/>
<circle cx="1371.5" cy="974.2" r="4" fill="#dc282b"/>
<circle cx="1682" cy="974.2" r="4" fill="#dc282b"/>
<circle cx="1196.6" cy="974.2" r="4" fill="#111111"/>
<circle cx="1448" cy="974.2" r="4" fill="#111111"/>
<circle cx="1505" cy="974.2" r="4" fill="#111111"/>
<circle cx="1643.4" cy="700.6" r="4" fill="#111111"/>
<circle cx="1690.7" cy="781" r="4" fill="#111111"/>
<circle cx="2220.6" cy="253.7" r="4" fill="#111111"/>
<circle cx="2436" cy="326" r="4" fill="#dc282b"/>
<circle cx="2455" cy="358" r="4" fill="#dc282b"/>
<circle cx="2625.9" cy="650.6" r="4" fill="#111111"/>
<circle cx="1072" cy="974.2" r="3.5" fill="#111111"/>
<circle cx="1128.8" cy="974.2" r="3.5" fill="#111111"/>
<circle cx="1139" cy="974.2" r="3.5" fill="#111111"/>
<circle cx="1161" cy="974.2" r="3.5" fill="#111111"/>
<circle cx="1243" cy="974.2" r="3.5" fill="#111111"/>
<circle cx="1372.4" cy="974.2" r="3.5" fill="#111111"/>
<circle cx="1385" cy="974.2" r="3.5" fill="#111111"/>
<circle cx="1477" cy="974.2" r="3.5" fill="#111111"/>
<circle cx="1513" cy="974.2" r="3.5" fill="#111111"/>
<circle cx="1525.7" cy="974.2" r="3.5" fill="#111111"/>
<circle cx="1530.9" cy="974.2" r="3.5" fill="#111111"/>
<circle cx="2397.3" cy="258" r="3.5" fill="#111111"/>
<circle cx="2554.7" cy="528.4" r="3.5" fill="#111111"/>
<circle cx="2584.7" cy="579.9" r="3.5" fill="#111111"/>
<circle cx="1101" cy="974.2" r="3.3" fill="#111111"/>
<circle cx="1106" cy="974.2" r="3.3" fill="#111111"/>
<circle cx="1152.8" cy="974.2" r="3.3" fill="#111111"/>
<circle cx="1158" cy="974.2" r="3.3" fill="#111111"/>
<circle cx="1215.5" cy="974.2" r="3.3" fill="#111111"/>
<circle cx="2415.9" cy="289.8" r="3.3" fill="#111111"/>
<circle cx="2459.4" cy="364.6" r="3.3" fill="#111111"/>
<circle cx="2463.1" cy="371" r="3.3" fill="#111111"/>
<circle cx="2467.2" cy="378" r="3.3" fill="#111111"/>
<circle cx="2523.1" cy="474" r="3.3" fill="#111111"/>
<circle cx="2535.2" cy="494.8" r="3.3" fill="#111111"/>
<circle cx="2548.7" cy="518" r="3.3" fill="#111111"/>
<circle cx="1091" cy="974.2" r="3" fill="#111111"/>
<circle cx="1150" cy="974.2" r="3" fill="#111111"/>
<circle cx="1173" cy="974.2" r="3" fill="#111111"/>
<circle cx="1236" cy="974.2" r="3" fill="#111111"/>
<circle cx="1270" cy="974.2" r="3" fill="#111111"/>
<circle cx="1285.8" cy="974.2" r="3" fill="#111111"/>
<circle cx="1577" cy="974.2" r="3" fill="#111111"/>
<circle cx="2248.6" cy="202" r="3" fill="#111111"/>
<circle cx="2208.6" cy="271.5" r="3" fill="#111111"/>
<circle cx="2406.5" cy="273.7" r="3" fill="#111111"/>
<circle cx="2440.4" cy="332" r="3" fill="#111111"/>
<circle cx="2489.3" cy="416" r="3" fill="#111111"/>
<circle cx="2501.3" cy="436.5" r="3" fill="#111111"/>
<circle cx="2538" cy="499.6" r="3" fill="#111111"/>
<circle cx="2597" cy="601" r="3" fill="#111111"/>
<circle cx="2629" cy="656" r="3" fill="#111111"/>
<circle cx="2421.8" cy="300" r="3" fill="#111111"/>
<circle cx="2473" cy="415" r="3" fill="#111111"/>
<circle cx="2605" cy="632.5" r="3" fill="#111111"/>
<circle cx="2642.2" cy="678.6" r="2.6" fill="#111111"/>
<circle cx="2651.7" cy="695" r="2.6" fill="#111111"/>
<circle cx="1206" cy="974.2" r="2.5" fill="#111111"/>
<circle cx="1290" cy="974.2" r="2.5" fill="#111111"/>
<circle cx="1410" cy="974.2" r="2.5" fill="#111111"/>
<circle cx="1492" cy="974.2" r="2.5" fill="#111111"/>
<circle cx="1565" cy="974.2" r="2.5" fill="#111111"/>
<circle cx="2214" cy="263" r="2.5" fill="#111111"/>
<circle cx="2226" cy="243" r="2.5" fill="#111111"/>
<circle cx="2400.8" cy="264" r="2.5" fill="#111111"/>
<circle cx="2482.9" cy="405" r="2.5" fill="#111111"/>
<circle cx="2506.2" cy="445" r="2.5" fill="#111111"/>
<circle cx="2561.5" cy="540" r="2.5" fill="#111111"/>
<circle cx="2576" cy="565" r="2.5" fill="#111111"/>
<circle cx="2605.2" cy="615" r="2.5" fill="#111111"/>
<circle cx="2448" cy="345" r="2.5" fill="#111111"/>
<circle cx="1378" cy="245.5" r="24.7" fill="#6f7a2e"/><circle cx="1370.8" cy="237.1" r="10.9" fill="#8f9853"/><circle cx="1370.8" cy="237.1" r="6.9" fill="#babf8d"/><circle cx="1370.8" cy="237.1" r="3.2" fill="#f6f9f2"/>
</g>
<g id="frame" stroke="#0a0a0a" fill="none" stroke-linejoin="miter">
<line x1="789.3" y1="974.2" x2="1802" y2="974.2" stroke-width="3.5"/>
<line x1="1802" y1="974.2" x2="2814" y2="974.2" stroke-width="3.1"/>
<line x1="1295.8" y1="104.3" x2="2308" y2="104.5" stroke-width="2.7"/>
<line x1="790.3" y1="974.2" x2="1297.6" y2="104.3" stroke-width="3.4"/>
<line x1="1295.8" y1="104.3" x2="1802" y2="974.2" stroke-width="4.3"/>
<line x1="1801.5" y1="974.2" x2="2307.2" y2="104.5" stroke-width="4.0"/>
<line x1="2308" y1="104.5" x2="2814" y2="974.2" stroke-width="2.9"/>
</g>
<g id="top-dots">
<circle cx="1802.3" cy="975.2" r="5.5" fill="#dc282b"/>
</g>
<g id="colorbar">
<rect x="2671.8" y="109.7" width="85.5" height="55.6" fill="#54439a"/>
<rect x="2671.8" y="164.8" width="85.5" height="55.6" fill="#2f4c9d"/>
<rect x="2671.8" y="219.8" width="85.5" height="55.6" fill="#6f7a2e"/>
<rect x="2671.8" y="274.8" width="85.5" height="55.6" fill="#62b736"/>
<rect x="2671.8" y="329.9" width="85.5" height="55.6" fill="#dde135"/>
<rect x="2671.8" y="384.9" width="85.5" height="55.6" fill="#e66d28"/>
<rect x="2671.8" y="440" width="85.5" height="55.6" fill="#dc282b"/>
<rect x="2671.8" y="495" width="85.5" height="55.6" fill="#111111"/>
<path d="M2671.8 550.4 V110 H2757.3 V550.4" fill="none" stroke="#111" stroke-width="2.2"/>
<line x1="2757.3" y1="165.1" x2="2771.3" y2="165.1" stroke="#111" stroke-width="2"/>
<line x1="2757.3" y1="220.1" x2="2771.3" y2="220.1" stroke="#111" stroke-width="2"/>
<line x1="2757.3" y1="275.1" x2="2771.3" y2="275.1" stroke="#111" stroke-width="2"/>
<line x1="2757.3" y1="330.2" x2="2771.3" y2="330.2" stroke="#111" stroke-width="2"/>
<line x1="2757.3" y1="385.2" x2="2771.3" y2="385.2" stroke="#111" stroke-width="2"/>
<line x1="2757.3" y1="440.3" x2="2771.3" y2="440.3" stroke="#111" stroke-width="2"/>
<line x1="2757.3" y1="495.3" x2="2771.3" y2="495.3" stroke="#111" stroke-width="2"/>
</g>
<g id="labels">
<text x="1277.5" y="73" font-size="55.5">100</text>
<text x="1245" y="98.2" font-size="55.5">0</text>
<text x="1521" y="73.9" font-size="55.5">75</text>
<text x="1775.1" y="73.9" font-size="55.5">50</text>
<text x="2025" y="73.9" font-size="55.5">25</text>
<text x="2299.8" y="73" font-size="55.5">0</text>
<text x="2328.5" y="121.2" font-size="55.5">100</text>
<text x="1084.3" y="323.4" font-size="55.5">25</text>
<text x="968.5" y="545.4" font-size="55.5">50</text>
<text x="838.4" y="758" font-size="55.5">75</text>
<text x="688.5" y="973.9" font-size="55.5">100</text>
<text x="764" y="1053" font-size="55.5">0</text>
<text x="1003.7" y="1052.6" font-size="55.5">25</text>
<text x="1252.8" y="1052.8" font-size="55.5">50</text>
<text x="1508.8" y="1053" font-size="55.5">75</text>
<text x="1750" y="1053" font-size="55.5">100</text>
<text x="2015.4" y="1053" font-size="55.5">25</text>
<text x="2271.9" y="1053" font-size="55.5">50</text>
<text x="2519.3" y="1053" font-size="55.5">75</text>
<text x="2763.6" y="1053" font-size="55.5">100</text>
<text x="2449.9" y="333.7" font-size="55.5">75</text>
<text x="2574" y="549.2" font-size="55.5">50</text>
<text x="2702.4" y="770.2" font-size="55.5">25</text>
<text x="2825.8" y="988.6" font-size="55.5">0</text>
<text x="1160.5" y="46" font-size="55.5">TiN</text>
<text x="2345.5" y="46.2" font-size="55.5">TiS</text>
<text x="2791.5" y="1105.6" font-size="55.9">MnS</text>
<text x="726.4" y="1107" font-size="55.5">TiO<tspan font-size="33" font-style="italic" dy="11.5" dx="1">x</tspan></text>
<text x="1735.6" y="1105.6" font-size="55.5">Al<tspan font-size="32" dy="12.2">2</tspan><tspan dy="-12.2">O</tspan><tspan font-size="32" dy="12.2">3</tspan></text>
<text x="2774.4" y="179.2" font-size="55.5">20</text>
<text x="2776" y="234.3" font-size="55.5">15</text>
<text x="2776" y="289.3" font-size="55.5">10</text>
<text x="2776" y="344.4" font-size="55.5">5</text>
<text x="2776" y="399.4" font-size="55.5">4</text>
<text x="2776" y="454.5" font-size="55.5">3</text>
<text x="2776" y="509.5" font-size="55.5">2</text>
<text x="2613" y="88" font-size="55.5" class="cj">尺寸</text>
<text x="2725" y="88" font-size="55.5">/μm</text>
<text x="446.5" y="122.1" font-size="55.3" class="cj">扫描面积</text>
<text class="cj" font-size="55.3" transform="translate(667.7 124.2) scale(1 0.78)">：</text>
<text x="723.6" y="120.6" font-size="55.5">100.4 mm<tspan font-size="27" dy="-19">2</tspan></text>
<text x="446.5" y="189" font-size="55.3" class="cj">夹杂物数量</text>
<text class="cj" font-size="55.3" transform="translate(723 191.1) scale(1 0.78)">：</text>
<text x="778.6" y="187.5" font-size="55.5">2 542</text>
<text x="916" y="189" font-size="55.3" class="cj">个</text>
<text x="446.5" y="255.9" font-size="55.3" class="cj">最大直径</text>
<text class="cj" font-size="55.3" transform="translate(667.7 258) scale(1 0.78)">：</text>
<text x="723.5" y="254.4" font-size="55.5">28.54 μm</text>
<text x="446.5" y="322.8" font-size="55.3" class="cj">平均直径</text>
<text class="cj" font-size="55.3" transform="translate(667.7 324.9) scale(1 0.78)">：</text>
<text x="723.5" y="321.3" font-size="55.5">3.48 μm</text>
<text x="446.5" y="389.7" font-size="55.3" class="cj">数量密度</text>
<text class="cj" font-size="55.3" transform="translate(667.7 391.8) scale(1 0.78)">：</text>
<text x="723.5" y="388.2" font-size="55.5">25.32</text>
<text x="861" y="389.7" font-size="55.3" class="cj">个</text>
<text x="919.5" y="388.2" font-size="55.5">/mm<tspan font-size="27" dy="-19">2</tspan></text>
<text x="446.5" y="456.6" font-size="55.3" class="cj">单位</text>
<text class="cj" font-size="55.3" transform="translate(557.1 458.7) scale(1 0.78)">：</text>
<text x="612.4" y="456.6" font-size="55.3" class="cj">质量百分数</text>
</g>
</svg>
</body>
</html>
